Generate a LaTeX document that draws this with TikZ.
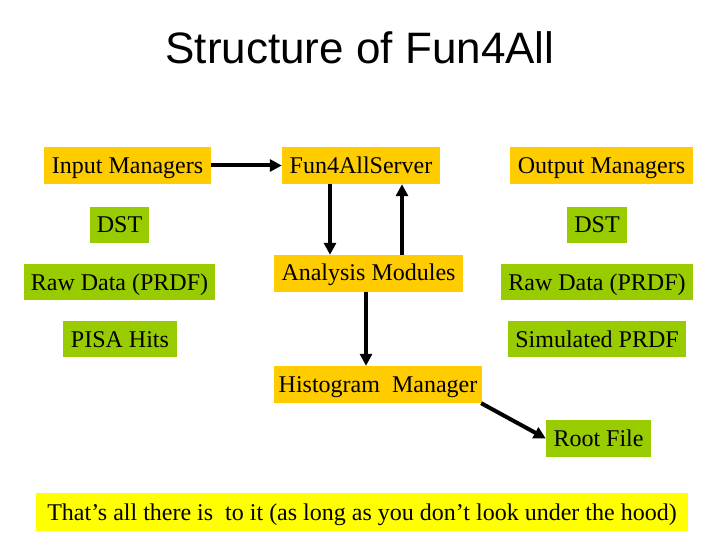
\documentclass[tikz,border=0pt]{standalone}
\usepackage{fontspec}
\setmainfont{Liberation Serif}
\newfontfamily\titlefont{Liberation Sans}
\usetikzlibrary{arrows.meta}
\definecolor{boxorange}{RGB}{255,204,0}
\definecolor{boxgreen}{RGB}{153,204,0}
\definecolor{boxyellow}{RGB}{255,255,0}
\tikzset{
  box/.style={inner sep=0pt, font=\fontsize{24}{28}\selectfont, text=black, text height=19pt, text depth=3pt},
  obox/.style={box, fill=boxorange},
  gbox/.style={box, fill=boxgreen},
  ybox/.style={box, fill=boxyellow},
  arr/.style={line width=4pt, -{Triangle[length=12pt,width=12pt]}},
}
\begin{document}
\begin{tikzpicture}[x=1pt,y=-1pt]
\useasboundingbox (0,0) rectangle (720,540);
\node[font=\titlefont\fontsize{44}{50}\selectfont, anchor=base] (title) at (360,64) {Structure of Fun4All};
% orange boxes
\node[obox, minimum width=167pt, minimum height=37pt] (in) at (127.5,165.5) {Input Managers};
\node[obox, minimum width=158pt, minimum height=37pt] (f4) at (361,165.5) {Fun4AllServer};
\node[obox, minimum width=183pt, minimum height=37pt] (out) at (601.5,165.5) {Output Managers};
\node[obox, minimum width=189pt, minimum height=37pt, text height=21pt, text depth=7pt] (am) at (368.5,273.5) {Analysis Modules};
\node[obox, minimum width=208pt, minimum height=37pt] (hm) at (378,384.5) {Histogram\ \ Manager};
% green boxes
\node[gbox, minimum width=59pt, minimum height=36pt] (dstl) at (119.5,225) {DST};
\node[gbox, minimum width=60pt, minimum height=36pt] (dstr) at (597,225) {DST};
\node[gbox, minimum width=191pt, minimum height=36pt] (rawl) at (119.5,282) {Raw Data (PRDF)};
\node[gbox, minimum width=192pt, minimum height=36pt] (rawr) at (597,282) {Raw Data (PRDF)};
\node[gbox, minimum width=114pt, minimum height=36pt] (pisa) at (120,339) {PISA Hits};
\node[gbox, minimum width=178pt, minimum height=36pt] (sim) at (597,339) {Simulated PRDF};
\node[gbox, minimum width=105pt, minimum height=37pt] (root) at (598.5,438.5) {Root File};
% bottom note
\node[ybox, minimum width=652pt, minimum height=38pt] (note) at (362,512) {That’s all there is\ \ to it (as long as you don’t look under the hood)};
% arrows
\draw[arr] (in.east) -- (f4.west);
\draw[arr] ([xshift=-31pt]f4.south) -- ([xshift=-38.5pt]am.north);
\draw[arr] ([xshift=33.5pt]am.north) -- ([xshift=41pt]f4.south);
\draw[arr] ([xshift=-2.5pt]am.south) -- ([xshift=-12pt]hm.north);
\draw[arr] ([xshift=-1pt]hm.south east) -- (root.west);
\end{tikzpicture}
\end{document}
